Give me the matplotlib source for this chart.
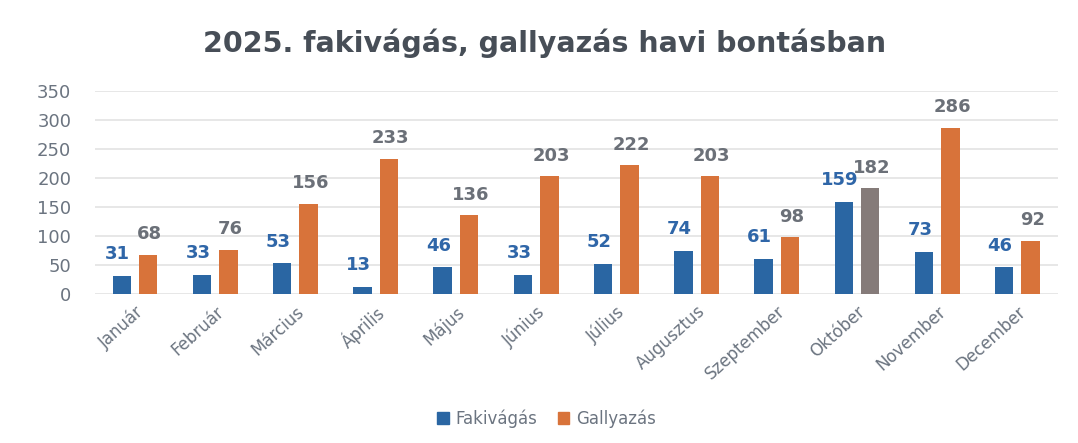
import matplotlib.pyplot as plt
import numpy as np

months = ["Január", "Február", "Március", "Április", "Május", "Június",
          "Július", "Augusztus", "Szeptember", "Október", "November", "December"]
fakivagas = [31, 33, 53, 13, 46, 33, 52, 74, 61, 159, 73, 46]
gallyazas = [68, 76, 156, 233, 136, 203, 222, 203, 98, 182, 286, 92]
yticks = [0, 50, 100, 150, 200, 250, 300, 350]

blue = "#2A66A3"
orange = "#D8733A"
gray_bar = "#857B79"
txt = "#6B7480"

fig = plt.figure(figsize=(10.78, 4.43), dpi=100)
ax = fig.add_axes([0.088, 0.336, 0.893, 0.459])

x = np.arange(len(months))
off = 0.165
w = 0.23
ax.bar(x - off, fakivagas, width=w, color=blue, label="Fakivágás", zorder=3)
ocolors = [orange] * len(months)
ocolors[9] = gray_bar
ax.bar(x + off, gallyazas, width=w, color=ocolors, label="Gallyazás", zorder=3)

for i in range(len(months)):
    ax.text(x[i] - off - 0.05, fakivagas[i] + 22, str(fakivagas[i]), ha="center",
            va="bottom", fontsize=13, color="#2F66A8", fontweight="bold")
    ax.text(x[i] + off + 0.02, gallyazas[i] + 20, str(gallyazas[i]), ha="center",
            va="bottom", fontsize=13, color="#6B7078", fontweight="bold")

ax.set_ylim(0, 350)
ax.set_xlim(-0.5, len(months) - 0.5)
ax.set_yticks(yticks)
ax.tick_params(axis="y", length=0, labelsize=13, labelcolor=txt, pad=17)
ax.set_xticks(x)
ax.set_xticklabels(months, rotation=42, ha="right", rotation_mode="anchor",
                   fontsize=12, color=txt)
ax.tick_params(axis="x", length=0, pad=6)
ax.grid(axis="y", color="#E3E3E3", linewidth=1.2, zorder=0)
for s in ax.spines.values():
    s.set_visible(False)

fig.suptitle("2025. fakivágás, gallyazás havi bontásban", x=0.505, y=0.935,
             fontsize=20.5, fontweight="bold", color="#474E57")

handles = [plt.Rectangle((0, 0), 1, 1, color=blue),
           plt.Rectangle((0, 0), 1, 1, color=orange)]
fig.legend(handles, ["Fakivágás", "Gallyazás"], loc="center", bbox_to_anchor=(0.507, 0.055),
           ncol=2, frameon=False, fontsize=12, labelcolor=txt, handlelength=0.7,
           handleheight=0.7, handletextpad=0.4, columnspacing=1.2)

fig.savefig("out.png", dpi=100, facecolor="white")
